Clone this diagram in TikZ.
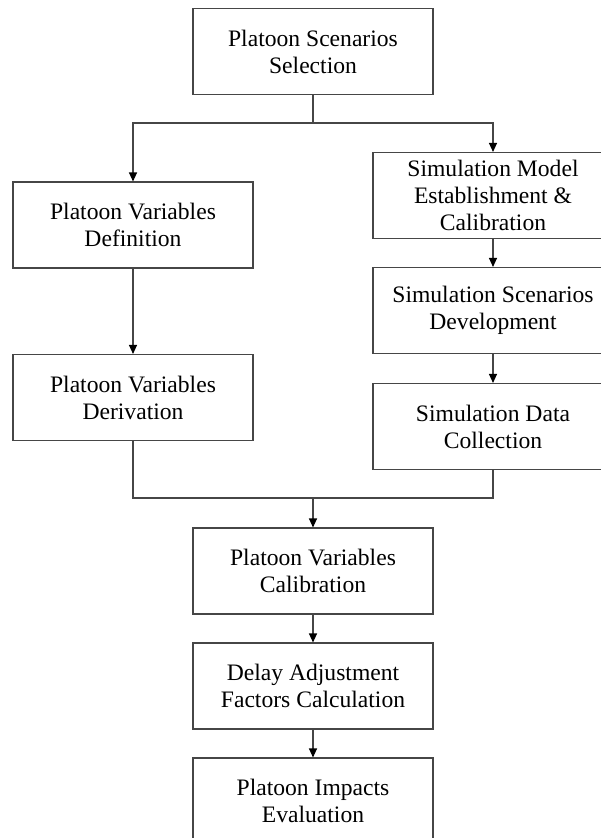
\documentclass[tikz,border=0pt]{standalone}
\usepackage{fontspec}
\setmainfont{Liberation Serif}
\usetikzlibrary{arrows.meta}
\definecolor{linegray}{RGB}{70,70,70}
\tikzset{
  box/.style={draw=linegray, line width=1.1pt, minimum width=240pt, minimum height=86pt,
    inner sep=0pt, align=center, font=\fontsize{23.6}{27}\selectfont, text=black},
  conn/.style={draw=linegray, line width=1.1pt},
  arr/.style={conn, -{Triangle[length=9pt,width=8pt,color=black]}},
}
\begin{document}
\begin{tikzpicture}[x=1pt,y=-1pt]
\useasboundingbox (0,0) rectangle (601,838);
\clip (0,0) rectangle (601,838);
\fill[white] (0,0) rectangle (601,838);
\node[box] (A) at (313,51.5) {Platoon Scenarios\\Selection};
\node[box] (B) at (133,225) {Platoon Variables\\Definition};
\node[box] (C) at (493,195.5) {Simulation Model\\Establishment \&\\Calibration};
\node[box] (D) at (493,310.5) {Simulation Scenarios\\Development};
\node[box] (E) at (133,397.5) {Platoon Variables\\Derivation};
\node[box] (F) at (493,426.5) {Simulation Data\\Collection};
\node[box] (G) at (313,571) {Platoon Variables\\Calibration};
\node[box] (H) at (313,686) {Delay Adjustment\\Factors Calculation};
\node[box] (I) at (313,801) {Platoon Impacts\\Evaluation};
\coordinate (split) at (313,123);
\coordinate (merge) at (313,498);
\draw[conn] (A.south) -- (split);
\draw[arr] (split) -| (B.north);
\draw[arr] (split) -| (C.north);
\draw[arr] (B.south) -- (E.north);
\draw[arr] (C.south) -- (D.north);
\draw[arr] (D.south) -- (F.north);
\draw[conn] (E.south) |- (merge);
\draw[conn] (F.south) |- (merge);
\draw[arr] (merge) -- (G.north);
\draw[arr] (G.south) -- (H.north);
\draw[arr] (H.south) -- (I.north);
\end{tikzpicture}
\end{document}
